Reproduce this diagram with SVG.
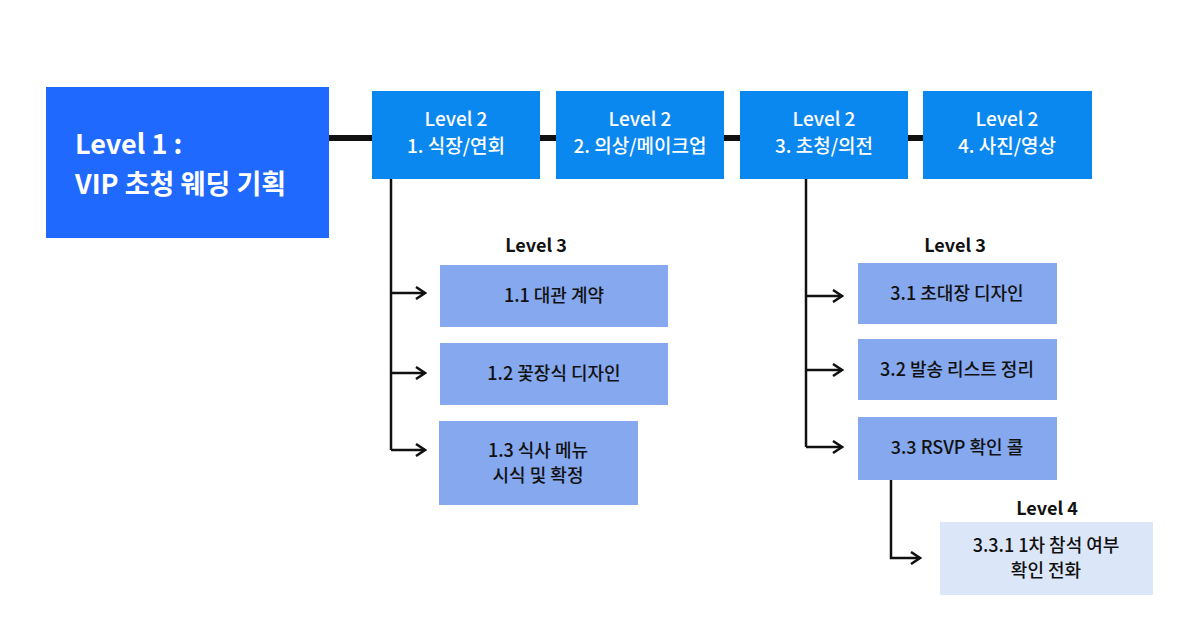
<svg xmlns="http://www.w3.org/2000/svg" width="1200" height="623" viewBox="0 0 1200 623">
<style>
text{font-family:"Noto Sans CJK KR","Noto Sans",sans-serif;}
.w{fill:#fff;font-size:19px;text-anchor:middle;font-weight:500}
.b{fill:#111;font-size:18px;text-anchor:middle;font-weight:700}
.l3{fill:#111;font-size:18px;text-anchor:middle;font-weight:500}
.ln{stroke:#111;stroke-width:2.5;fill:none}
</style>
<defs><marker id="a" markerWidth="12" markerHeight="14" refX="10" refY="7" orient="auto" markerUnits="userSpaceOnUse"><path d="M1,1 L10,7 L1,13" fill="none" stroke="#111" stroke-width="2.5"/></marker></defs>
<rect width="1200" height="623" fill="#fff"/>
<g id="connectors">
<line x1="329" y1="138" x2="923" y2="138" stroke="#111" stroke-width="6"/>
<path class="ln" d="M391 179 V450"/>
<path class="ln" d="M391 293 H425" marker-end="url(#a)"/>
<path class="ln" d="M391 373 H425" marker-end="url(#a)"/>
<path class="ln" d="M391 450 H425" marker-end="url(#a)"/>
<path class="ln" d="M806 179 V447"/>
<path class="ln" d="M806 296 H842" marker-end="url(#a)"/>
<path class="ln" d="M806 370 H842" marker-end="url(#a)"/>
<path class="ln" d="M806 447 H842" marker-end="url(#a)"/>
<path class="ln" d="M891 480 V558 H920" marker-end="url(#a)"/>
</g>
<g id="n1"><rect x="46" y="87" width="283" height="151" fill="#2069FF"/>
<text x="75" y="154" fill="#fff" font-size="27" font-weight="700">Level 1 :</text>
<text x="75" y="194" fill="#fff" font-size="27" font-weight="700">VIP 초청 웨딩 기획</text></g>
<g id="n2a"><rect x="372" y="91" width="168" height="88" fill="#0B87F0"/><text class="w" x="456" y="126">Level 2</text><text class="w" x="456" y="153">1. 식장/연회</text></g>
<g id="n2b"><rect x="556" y="91" width="168" height="88" fill="#0B87F0"/><text class="w" x="640" y="126">Level 2</text><text class="w" x="640" y="153">2. 의상/메이크업</text></g>
<g id="n2c"><rect x="740" y="91" width="168" height="88" fill="#0B87F0"/><text class="w" x="824" y="126">Level 2</text><text class="w" x="824" y="153">3. 초청/의전</text></g>
<g id="n2d"><rect x="923" y="91" width="169" height="88" fill="#0B87F0"/><text class="w" x="1007" y="126">Level 2</text><text class="w" x="1007" y="153">4. 사진/영상</text></g>
<text class="b" x="536" y="252">Level 3</text>
<text class="b" x="955" y="252">Level 3</text>
<text class="b" x="1047" y="515">Level 4</text>
<g id="n11"><rect x="440" y="265" width="228" height="62" fill="#85A8EE"/><text class="l3" x="554" y="302">1.1 대관 계약</text></g>
<g id="n12"><rect x="440" y="343" width="228" height="62" fill="#85A8EE"/><text class="l3" x="554" y="380">1.2 꽃장식 디자인</text></g>
<g id="n13"><rect x="439" y="421" width="199" height="84" fill="#85A8EE"/><text class="l3" x="538" y="457">1.3 식사 메뉴</text><text class="l3" x="538" y="482">시식 및 확정</text></g>
<g id="n31"><rect x="858" y="263" width="199" height="61" fill="#85A8EE"/><text class="l3" x="957" y="300">3.1 초대장 디자인</text></g>
<g id="n32"><rect x="858" y="339" width="199" height="61" fill="#85A8EE"/><text class="l3" x="957" y="376">3.2 발송 리스트 정리</text></g>
<g id="n33"><rect x="858" y="417" width="199" height="63" fill="#85A8EE"/><text class="l3" x="957" y="454">3.3 RSVP 확인 콜</text></g>
<g id="n331"><rect x="940" y="522" width="213" height="73" fill="#DCE6F9"/><text class="l3" x="1046" y="552">3.3.1 1차 참석 여부</text><text class="l3" x="1046" y="577">확인 전화</text></g>
</svg>
